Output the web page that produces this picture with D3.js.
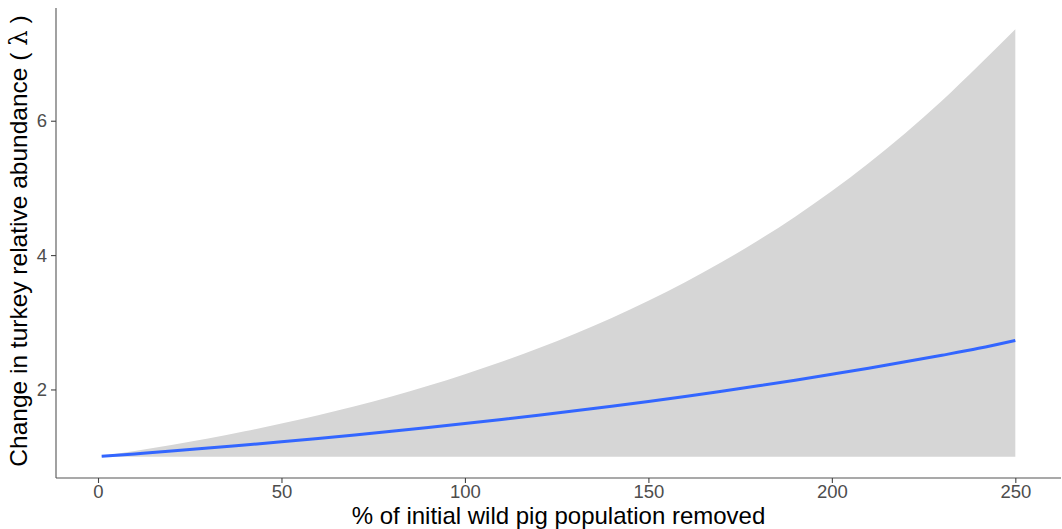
<!DOCTYPE html>
<html><head><meta charset="utf-8">
<script src="https://cdn.jsdelivr.net/npm/d3@7/dist/d3.min.js"></script>
<style>body{margin:0;background:#fff}svg{display:block}</style>
</head><body>
<svg id="c" width="1062" height="529"></svg>
<script>
// Data
const removed = [1,10,20,30,40,50,60,70,80,90,100,110,120,130,140,150,160,170,180,190,200,210,220,230,240,250];
const fit     = [1.004,1.041,1.083,1.127,1.174,1.221,1.271,1.323,1.377,1.433,1.492,1.553,1.616,1.682,1.751,1.822,1.896,1.974,2.054,2.138,2.226,2.316,2.411,2.509,2.612,2.73];
const upper   = [1.008,1.083,1.174,1.271,1.377,1.492,1.616,1.751,1.896,2.054,2.226,2.411,2.612,2.829,3.065,3.320,3.597,3.896,4.221,4.572,4.953,5.366,5.812,6.296,6.821,7.36];
const lower   = [1,1,1,1,1,1,1,1,1,1,1,1,1,1,1,1,1,1,1,1,1,1,1,1,1,1];
const xTicks = [0,50,100,150,200,250];
const yTicks = [2,4,6];

const svg = d3.select("#c");
const L = 56, R = 1061, T = 8, B = 478;

const xmin = d3.min(removed), xmax = d3.max(removed);
const xpad = (xmax - xmin) * 0.05;
const x = d3.scaleLinear().domain([xmin - xpad, xmax + xpad]).range([L, R]);
const ymin = d3.min(lower), ymax = d3.max(upper);
const ypad = (ymax - ymin) * 0.05;
const y = d3.scaleLinear().domain([ymin - ypad, ymax + ypad]).range([B, T]);

const data = removed.map((d, i) => ({x: d, f: fit[i], lo: lower[i], hi: upper[i]}));

svg.append("path").datum(data)
  .attr("fill", "#d6d6d6")
  .attr("d", d3.area().x(d => x(d.x)).y0(d => y(d.lo)).y1(d => y(d.hi)).curve(d3.curveMonotoneX));

svg.append("path").datum(data)
  .attr("fill", "none").attr("stroke", "#3366ff").attr("stroke-width", 3)
  .attr("d", d3.line().x(d => x(d.x)).y(d => y(d.f)).curve(d3.curveMonotoneX));

const xAxis = svg.append("g").attr("transform", `translate(0,${B})`)
  .call(d3.axisBottom(x).tickValues(xTicks).tickFormat(d3.format("d")).tickSize(5).tickPadding(2).tickSizeOuter(0));
const yAxis = svg.append("g").attr("transform", `translate(${L},0)`)
  .call(d3.axisLeft(y).tickValues(yTicks).tickFormat(d3.format("d")).tickSize(5).tickPadding(4).tickSizeOuter(0));

[xAxis, yAxis].forEach(g => {
  g.select(".domain").attr("stroke", "#555").attr("stroke-width", 1.1);
  g.selectAll(".tick line").attr("stroke", "#444").attr("stroke-width", 1.1);
  g.selectAll(".tick text").attr("fill", "#4d4d4d")
    .style("font-family", "'Liberation Sans', Arial, sans-serif").style("font-size", "18.5px");
});
yAxis.select(".domain").attr("d", `M0,${T}V${B}`);
xAxis.select(".domain").attr("d", `M${L},0H${R}`);

svg.append("text")
  .attr("x", (L + R) / 2).attr("y", 524)
  .attr("text-anchor", "middle")
  .style("font-family", "'Liberation Sans', Arial, sans-serif").style("font-size", "24px")
  .attr("fill", "#000")
  .text("% of initial wild pig population removed");

const yt = svg.append("text")
  .attr("transform", `translate(27,${(T + B) / 2 - 2}) rotate(-90)`)
  .attr("text-anchor", "middle")
  .style("font-family", "'Liberation Sans', Arial, sans-serif").style("font-size", "24.5px")
  .attr("fill", "#000");
yt.append("tspan").text("Change in turkey relative abundance ( ");
yt.append("tspan").style("font-family", "'DejaVu Serif', serif").text("λ");
yt.append("tspan").text(" )");
</script>
</body></html>
